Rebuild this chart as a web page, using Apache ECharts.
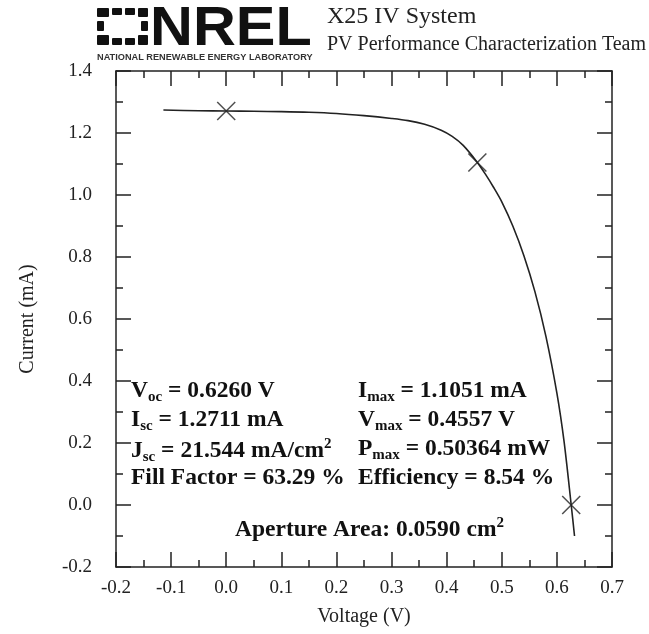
<!DOCTYPE html>
<html>
<head>
<meta charset="utf-8">
<script src="https://cdn.jsdelivr.net/npm/echarts@6/dist/echarts.min.js"></script>
<style>
  html, body { margin: 0; padding: 0; background: #fff; }
  #chart { width: 649px; height: 634px; }
</style>
</head>
<body>
<div id="chart"></div>
<script>
// I-V curve
const voltage = [-0.114, -0.05, 0.0, 0.05, 0.1, 0.15, 0.2, 0.25, 0.3, 0.33, 0.36, 0.39, 0.41, 0.43,
  0.4557, 0.47, 0.485, 0.5, 0.52, 0.54, 0.56, 0.58, 0.6, 0.613, 0.626, 0.632]
const current = [1.274, 1.272, 1.2711, 1.270, 1.269, 1.267, 1.263, 1.256, 1.247, 1.240, 1.228, 1.209, 1.189, 1.160,
  1.1051, 1.068, 1.025, 0.978, 0.900, 0.805, 0.689, 0.545, 0.361, 0.205, 0.0, -0.10]

// Isc, Pmax, Voc markers
const markerV = [0.0, 0.4557, 0.6260]
const markerI = [1.2711, 1.1051, 0.0]

const xTicks = { min: -0.2, max: 0.7, interval: 0.1 }
const yTicks = { min: -0.2, max: 1.4, interval: 0.2 }

const serif = '"Liberation Serif", "DejaVu Serif", serif'
const ink = '#222'

const chart = echarts.init(document.getElementById('chart'))

const axisCommon = {
  axisLine: { show: true, onZero: false, lineStyle: { color: ink, width: 1.5 } },
  axisTick: { show: true, inside: true, length: 15, lineStyle: { color: ink, width: 1.5 } },
  minorTick: { show: true, splitNumber: 2, length: 7, lineStyle: { color: ink, width: 1.5 } },
  splitLine: { show: false }
}

const label = (txt, x, y) => ({
  type: 'text', left: x, top: y,
  style: {
    text: txt, font: 'bold 23.5px ' + serif, fill: '#111',
    rich: {
      sub: { fontSize: 15, fontWeight: 'bold', fontFamily: serif, verticalAlign: 'bottom', lineHeight: 24 },
      sup: { fontSize: 15, fontWeight: 'bold', fontFamily: serif, verticalAlign: 'top', lineHeight: 24 },
      n: { fontSize: 23.5, fontWeight: 'bold', fontFamily: serif, lineHeight: 28 }
    }
  }
})

// NREL icon blocks
const logoBlocks = [
  [97, 8, 12, 9], [112, 8, 10, 7], [125, 8, 10, 7], [138, 8, 10, 9],
  [97, 21, 7, 10], [141, 21, 7, 10],
  [97, 35, 12, 10], [112, 38, 10, 7], [125, 38, 10, 7], [138, 35, 10, 10]
].map(b => ({ type: 'rect', shape: { x: b[0], y: b[1], width: b[2], height: b[3], r: 1 }, style: { fill: '#111' } }))

chart.setOption({
  animation: false,
  grid: { left: 116, right: 37, top: 71, bottom: 67 },
  xAxis: [
    Object.assign({
      type: 'value', min: xTicks.min, max: xTicks.max, interval: xTicks.interval,
      name: 'Voltage (V)', nameLocation: 'middle', nameGap: 40,
      nameTextStyle: { fontFamily: serif, fontSize: 20, color: ink },
      axisLabel: { margin: 12, fontFamily: serif, fontSize: 19, color: ink, formatter: v => v.toFixed(1) }
    }, axisCommon),
    Object.assign({
      type: 'value', position: 'top', min: xTicks.min, max: xTicks.max, interval: xTicks.interval,
      axisLabel: { show: false }
    }, axisCommon)
  ],
  yAxis: [
    Object.assign({
      type: 'value', min: yTicks.min, max: yTicks.max, interval: yTicks.interval,
      name: 'Current (mA)', nameLocation: 'middle', nameGap: 78, nameRotate: 90,
      nameTextStyle: { fontFamily: serif, fontSize: 20, color: ink },
      axisLabel: { margin: 24, fontFamily: serif, fontSize: 19, color: ink, formatter: v => v.toFixed(1) }
    }, axisCommon),
    Object.assign({
      type: 'value', position: 'right', min: yTicks.min, max: yTicks.max, interval: yTicks.interval,
      axisLabel: { show: false }
    }, axisCommon)
  ],
  series: [
    {
      type: 'line', data: voltage.map((v, i) => [v, current[i]]),
      smooth: 0.3, showSymbol: false,
      lineStyle: { color: ink, width: 1.6 }
    },
    {
      type: 'scatter', data: markerV.map((v, i) => [v, markerI[i]]),
      symbol: 'path://M0,0L10,10M10,0L0,10', symbolSize: 18,
      itemStyle: { color: 'none', borderColor: ink, borderWidth: 1.5 }
    }
  ],
  graphic: [
    ...logoBlocks,
    { type: 'text', left: 150, top: 2, scaleX: 1.08, style: { text: 'NREL', font: 'bold 55px "Liberation Sans", Arial, sans-serif', fill: '#111' } },
    { type: 'text', left: 97, top: 53, style: { text: 'NATIONAL RENEWABLE ENERGY LABORATORY', font: 'bold 9.2px "Liberation Sans", Arial, sans-serif', fill: '#333' } },
    { type: 'text', left: 327, top: 5, style: { text: 'X25 IV System', font: '24px ' + serif, fill: ink } },
    { type: 'text', left: 327, top: 35, style: { text: 'PV Performance Characterization Team', font: '20px ' + serif, fill: ink } },
    label('{n|V}{sub|oc}{n| = 0.6260 V}', 131, 379),
    label('{n|I}{sub|sc}{n| = 1.2711 mA}', 131, 408),
    label('{n|J}{sub|sc}{n| = 21.544 mA/cm}{sup|2}', 131, 437),
    label('{n|Fill Factor = 63.29 %}', 131, 466),
    label('{n|I}{sub|max}{n| = 1.1051 mA}', 358, 379),
    label('{n|V}{sub|max}{n| = 0.4557 V}', 358, 408),
    label('{n|P}{sub|max}{n| = 0.50364 mW}', 358, 437),
    label('{n|Efficiency = 8.54 %}', 358, 466),
    label('{n|Aperture Area: 0.0590 cm}{sup|2}', 235, 516)
  ]
})
</script>
</body>
</html>
